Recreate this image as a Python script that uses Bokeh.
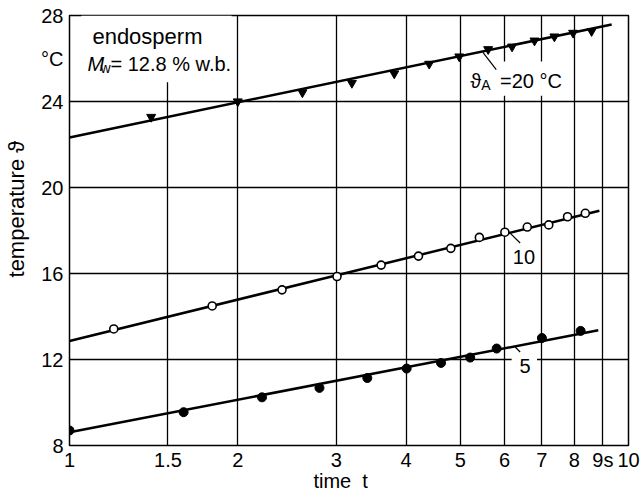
from bokeh.plotting import figure
from bokeh.models import FixedTicker, Label, Range1d
from bokeh.embed import file_html
from bokeh.resources import INLINE

# ---- data ----
# series at ambient temperature 20 °C (filled down-triangles)
t_20 = [1.40, 2.00, 2.61, 3.20, 3.81, 4.40, 4.98, 5.61, 6.19, 6.79, 7.37, 7.96, 8.59]
T_20 = [23.28, 24.00, 24.42, 24.86, 25.30, 25.75, 26.09, 26.43, 26.55, 26.83, 27.02, 27.19, 27.27]
# series at 10 °C (open circles)
t_10 = [1.20, 1.80, 2.40, 3.01, 3.61, 4.21, 4.81, 5.41, 6.01, 6.59, 7.20, 7.78, 8.37]
T_10 = [13.42, 14.49, 15.24, 15.86, 16.39, 16.81, 17.17, 17.68, 17.92, 18.16, 18.26, 18.64, 18.80]
# series at 5 °C (filled circles)
t_5 = [1.00, 1.60, 2.21, 2.80, 3.41, 4.01, 4.62, 5.21, 5.81, 7.00, 8.21]
T_5 = [8.70, 9.55, 10.24, 10.68, 11.14, 11.58, 11.84, 12.09, 12.51, 13.00, 13.33]

# fitted straight lines (semi-log), end points
fit_t_20 = [1.0, 9.33]
fit_T_20 = [22.33, 27.58]
fit_t_10 = [1.0, 8.87]
fit_T_10 = [12.86, 18.92]
fit_t_5 = [1.0, 8.83]
fit_T_5 = [8.62, 13.36]

# axes
x_ticks = [1, 1.5, 2, 3, 4, 5, 6, 7, 8, 9, 10]
x_tick_labels = ["1", "1.5", "2", "3", "4", "5", "6", "7", "8", "9s", "10"]
y_ticks = [8, 12, 16, 20, 24, 28]
y_unit_tick = 26
y_unit_label = "°C"
NB = "\u00a0"
x_title = "time" + NB + NB + "t" + NB * 3
y_title = NB * 7 + "temperature" + NB + "ϑ"

FONT = "Liberation Sans"
FS = "20px"

p = figure(width=642, height=496, x_axis_type="log",
           x_range=Range1d(1, 10), y_range=Range1d(8, 28),
           output_backend="svg", toolbar_location=None,
           min_border_left=69, min_border_right=14,
           min_border_top=15, min_border_bottom=51)
p.background_fill_color = "white"
p.border_fill_color = "white"
p.outline_line_color = "black"
p.outline_line_width = 1.5

# axes
p.xaxis.ticker = FixedTicker(ticks=x_ticks)
p.xaxis.major_label_overrides = {t: l for t, l in zip(x_ticks, x_tick_labels)}
p.yaxis.ticker = FixedTicker(ticks=y_ticks + [y_unit_tick])
p.yaxis.major_label_overrides = {y_unit_tick: y_unit_label}
for ax in (p.xaxis[0], p.yaxis[0]):
    ax.major_tick_in = 0
    ax.major_tick_out = 0
    ax.minor_tick_in = 0
    ax.minor_tick_out = 0
    ax.axis_line_color = None
    ax.major_label_text_font = FONT
    ax.major_label_text_font_size = FS
    ax.major_label_text_color = "black"
    ax.axis_label_text_font = FONT
    ax.axis_label_text_font_style = "normal"
    ax.axis_label_text_color = "black"
p.xaxis.axis_label_text_font_size = "20px"
p.yaxis.axis_label_text_font_size = "22px"
p.xaxis.axis_label = x_title
p.yaxis.axis_label = y_title
p.xaxis.major_label_standoff = 3
p.yaxis.major_label_standoff = 6
p.xaxis.axis_label_standoff = -4
p.yaxis.axis_label_standoff = 9

# grid
p.xgrid.ticker = FixedTicker(ticks=x_ticks)
p.ygrid.ticker = FixedTicker(ticks=y_ticks)
for g in (p.xgrid[0], p.ygrid[0]):
    g.grid_line_color = "black"
    g.grid_line_width = 1.3
    g.grid_line_alpha = 1.0

# white boxes behind the annotations (cover grid lines)
p.quad(left=[1.05, 5.12, 6.16, 6.18], right=[1.95, 7.73, 6.85, 6.86],
       top=[28.0, 25.86, 17.37, 12.45], bottom=[24.9, 24.27, 16.39, 11.40],
       fill_color="white", line_color=None)

# fitted lines
p.line(fit_t_20, fit_T_20, line_width=2.5, color="black")
p.line(fit_t_10, fit_T_10, line_width=2.5, color="black")
p.line(fit_t_5, fit_T_5, line_width=2.5, color="black")

# measured points
p.scatter(t_20, T_20, marker="inverted_triangle", size=9, color="black")
p.scatter(t_10, T_10, marker="circle", size=8, fill_color="white",
          line_color="black", line_width=1.6)
p.scatter(t_5, T_5, marker="circle", size=9, color="black")

# leader lines
p.segment(x0=[5.49, 6.14, 6.27], y0=[26.28, 17.88, 12.58],
          x1=[5.80, 6.40, 6.40], y1=[25.48, 17.42, 12.35],
          line_width=1.2, color="black")


def lab(x, y, text, size=FS, style="normal", align="left"):
    p.add_layout(Label(x=x, y=y, text=text, text_font=FONT, text_font_size=size,
                       text_font_style=style, text_align=align,
                       text_baseline="alphabetic", text_color="black"))


lab(1.099, 27.01, "endosperm", size="22px")
lab(1.077, 25.76, "M", style="italic")
lab(1.136, 25.58, "w", size="14px")
lab(1.184, 25.76, "= 12.8 % w.b.")

lab(5.21, 24.94, "ϑ")
lab(5.45, 24.77, "A", size="14px")
lab(5.89, 24.94, "=20 °C")

lab(6.50, 16.78, "10", align="center")
lab(6.53, 11.70, "5", align="center")

open("out.html", "w").write(file_html(p, INLINE))
